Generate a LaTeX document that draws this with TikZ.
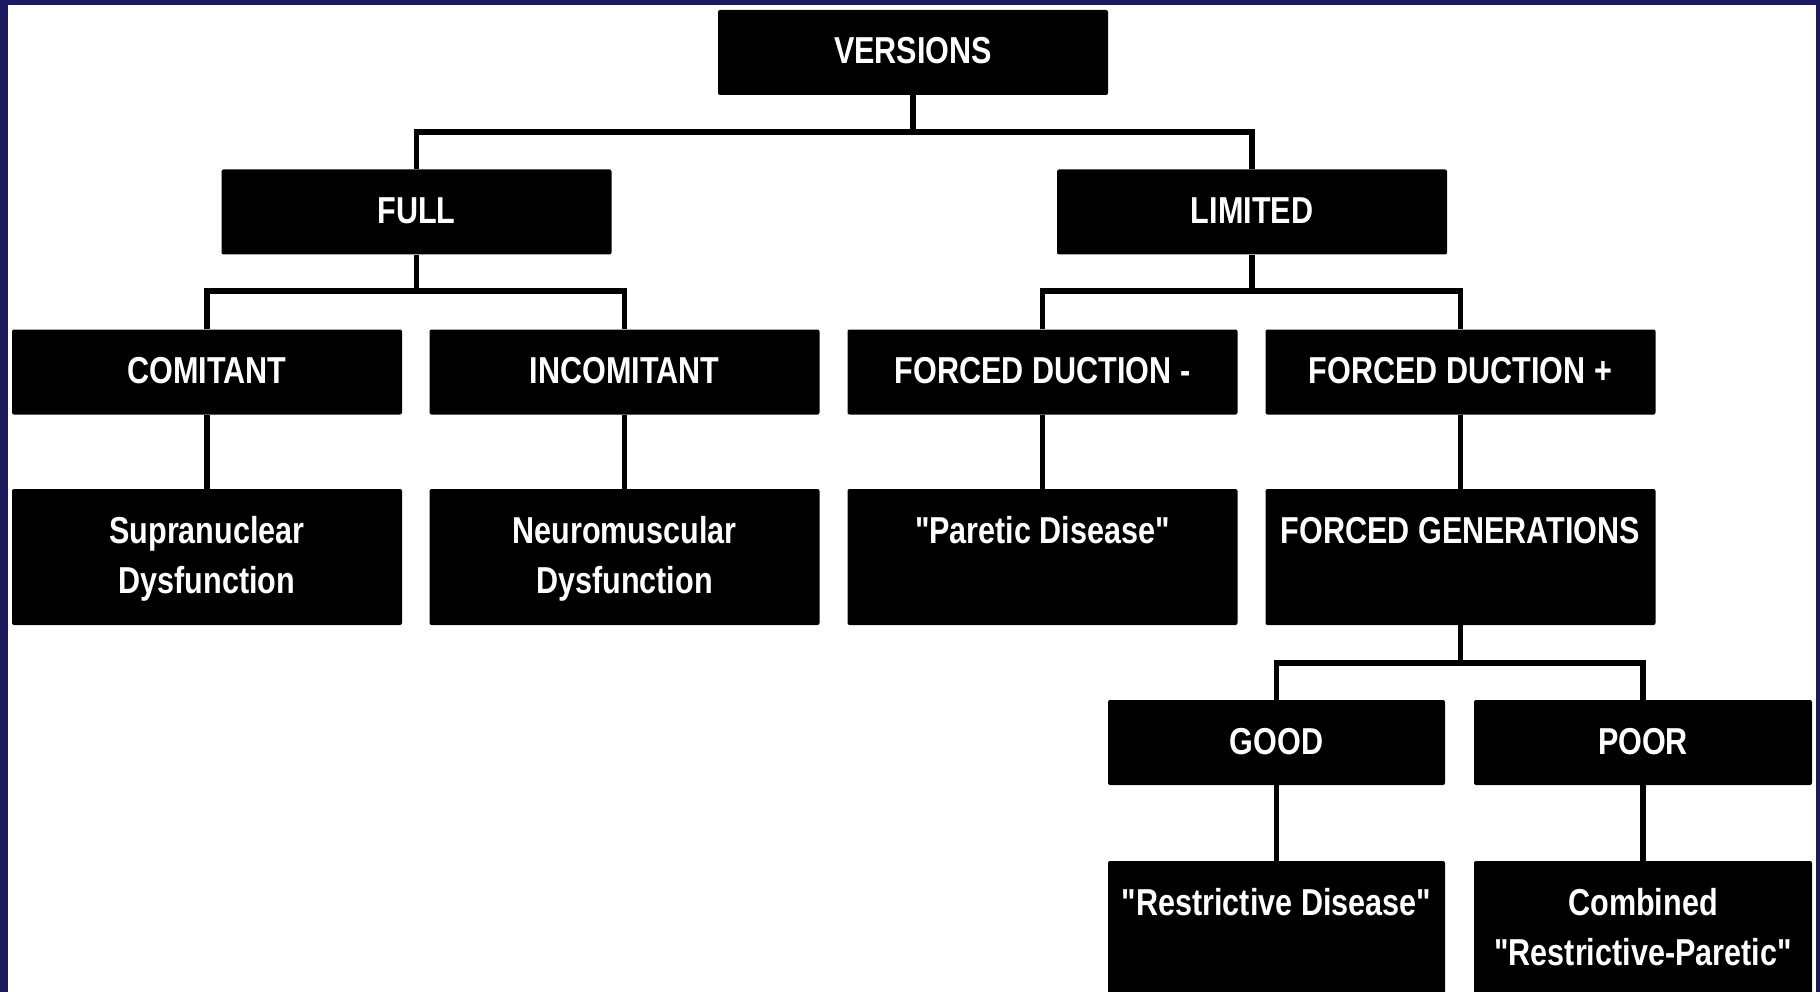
\documentclass[tikz,border=0pt]{standalone}
\usepackage{fontspec}
\newfontfamily\narrowfont[FakeStretch=0.815]{Liberation Sans}
\definecolor{navyL}{HTML}{1A1A60}
\definecolor{navyM}{HTML}{24249A}
\definecolor{navyR}{HTML}{1A1A60}
\tikzset{
  box/.style={fill=black, rounded corners=2pt, text=white,
    font=\narrowfont\bfseries\fontsize{37.5pt}{50pt}\selectfont,
    inner sep=0pt, align=flush center, text height=54pt},
  wide/.style={text width=390pt},
  short/.style={text depth=31pt},
  tall/.style={text depth=82pt},
  conn/.style={draw=black, line width=5.5pt}
}
\begin{document}
\begin{tikzpicture}[x=1pt,y=-1pt]
\useasboundingbox (0,0) rectangle (1820,992);
\clip (0,0) rectangle (1820,992);
\shade[left color=navyL, middle color=navyM, right color=navyR] (0,0) rectangle (1820,992);
\fill[white] (8,5) rectangle (1816,992);

% row 1
\node[box, wide, short] (V) at (913,52.5) {VERSIONS};
% row 2
\node[box, wide, short] (FULL) at (416.5,212) {FULL};
\node[box, wide, short] (LIM) at (1252,212) {LIMITED};
% row 3
\node[box, wide, short] (COM) at (207,372) {COMITANT};
\node[box, wide, short] (INC) at (624.5,372) {INCOMITANT};
\node[box, wide, short] (FDM) at (1042.5,372) {FORCED DUCTION -};
\node[box, wide, short] (FDP) at (1460.5,372) {FORCED DUCTION +};
% row 4
\node[box, wide, tall] (SUP) at (207,557) {Supranuclear\\Dysfunction};
\node[box, wide, tall] (NEU) at (624.5,557) {Neuromuscular\\Dysfunction};
\node[box, wide, tall] (PAR) at (1042.5,557) {"Paretic Disease"};
\node[box, wide, tall] (FG) at (1460.5,557) {FORCED GENERATIONS};
% row 5
\node[box, text width=337pt, short] (GOOD) at (1276.5,742.5) {GOOD};
\node[box, text width=338pt, short] (POOR) at (1643,742.5) {POOR};
% row 6
\node[box, text width=337pt, text depth=96pt] (RD) at (1276.5,936) {"Restrictive Disease"};
\node[box, text width=338pt, text depth=96pt] (CRP) at (1643,936) {Combined\\"Restrictive-Paretic"};

% connectors
\coordinate (b1) at (913,132);
\coordinate (b2) at (416.5,291);
\coordinate (b3) at (1252,291);
\coordinate (b4) at (1460.5,663);
\draw[conn] (V.south) -- (b1);
\draw[conn] (FULL.north) |- (b1) -| (LIM.north);
\draw[conn] (FULL.south) -- (b2);
\draw[conn] (COM.north) |- (b2) -| (INC.north);
\draw[conn] (LIM.south) -- (b3);
\draw[conn] (FDM.north) |- (b3) -| (FDP.north);
\draw[conn] (COM.south) -- (SUP.north);
\draw[conn] (INC.south) -- (NEU.north);
\draw[conn] (FDM.south) -- (PAR.north);
\draw[conn] (FDP.south) -- (FG.north);
\draw[conn] (FG.south) -- (b4);
\draw[conn] (GOOD.north) |- (b4) -| (POOR.north);
\draw[conn] (GOOD.south) -- (RD.north);
\draw[conn] (POOR.south) -- (CRP.north);
\end{tikzpicture}
\end{document}
